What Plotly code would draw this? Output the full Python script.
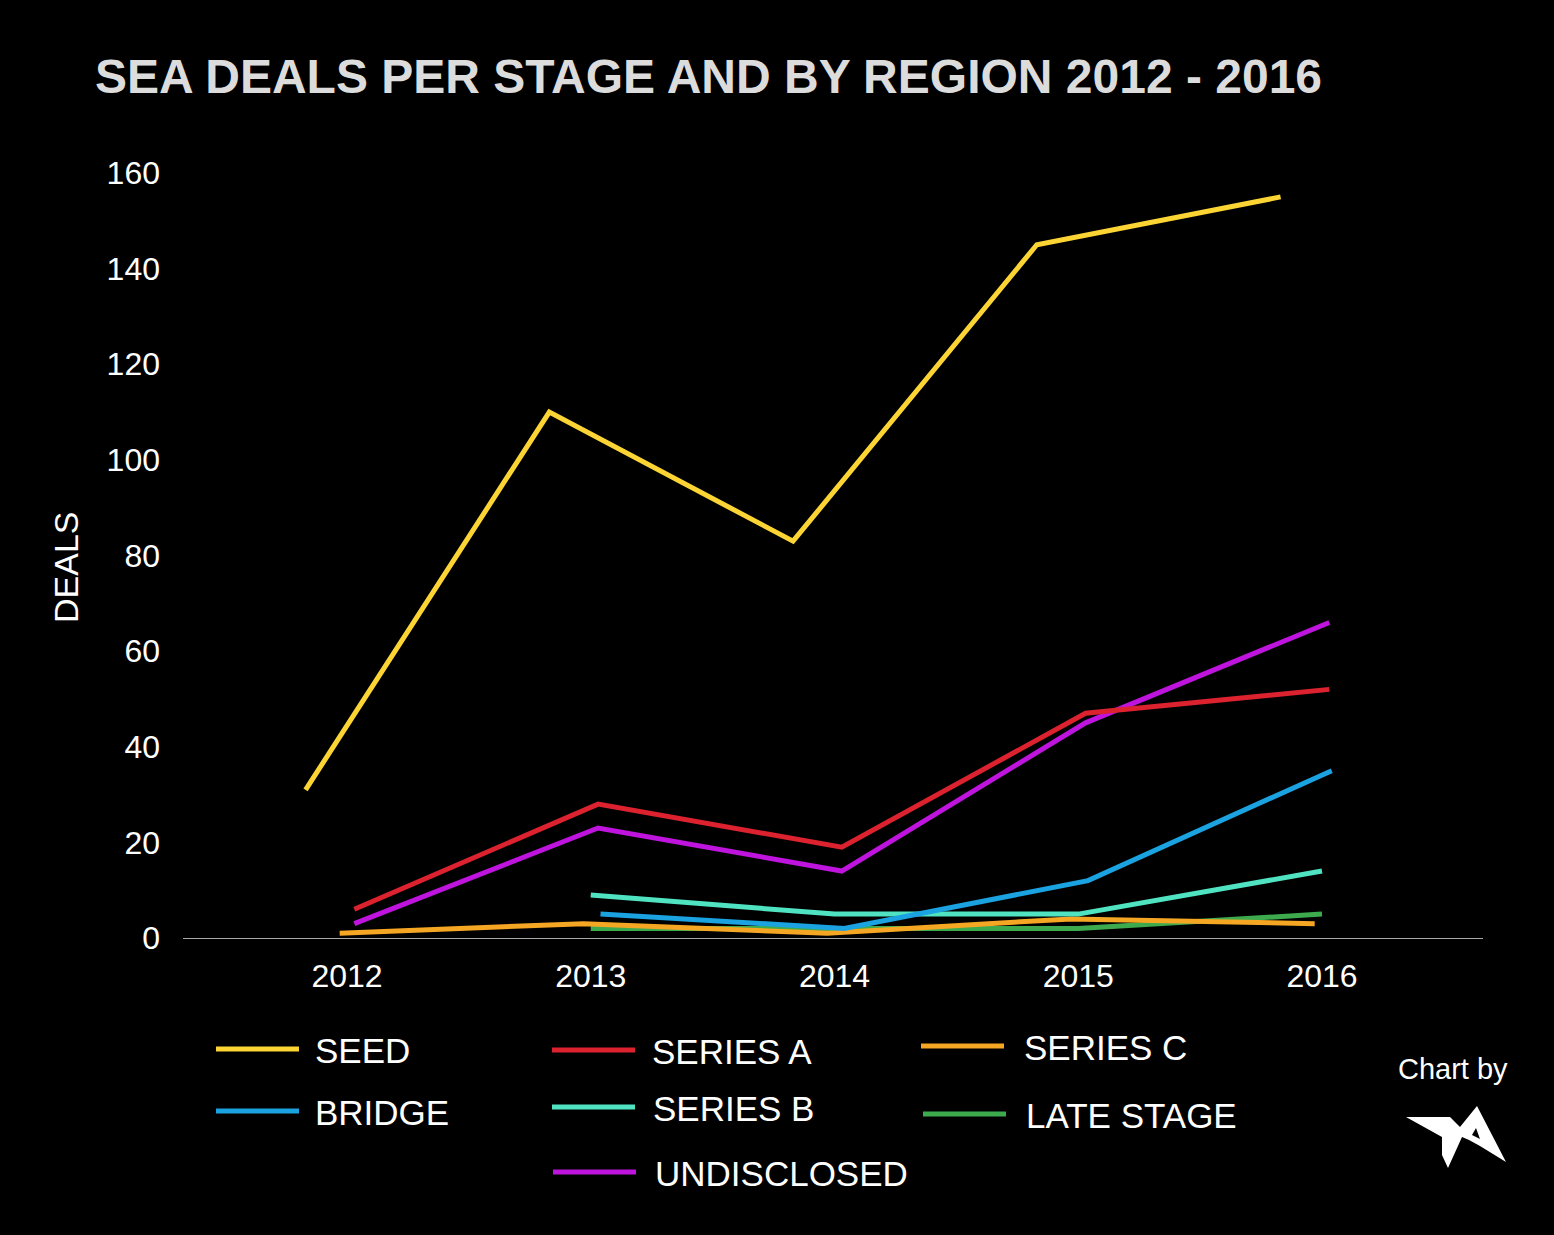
import plotly.graph_objects as go

# ---------------- data ----------------
years = [2012, 2013, 2014, 2015, 2016]
tick_labels = ["2012", "2013", "2014", "2015", "2016"]

seed = [31, 110, 83, 145, 155]
series_a = [6, 28, 19, 47, 52]
series_c = [1, 3, 1, 4, 3]
bridge = [None, 5, 2, 12, 35]
series_b = [None, 9, 5, 5, 14]
late_stage = [None, 2, 2, 2, 5]
undisclosed = [3, 23, 14, 45, 66]

names = ["SEED", "SERIES A", "SERIES C", "BRIDGE", "SERIES B", "LATE STAGE", "UNDISCLOSED"]
values = [seed, series_a, series_c, bridge, series_b, late_stage, undisclosed]
colors = ["#FCD535", "#DC222E", "#F5A623", "#1BA2E0", "#50E3C2", "#3DAA4E", "#BE14DE"]
# horizontal dodge of each series within a year (styling)
dodge = [-0.17, 0.03, -0.03, 0.04, 0.0, 0.0, 0.03]

# ---------------- layout geometry ----------------
W, H = 1554, 1235
L, R, T, B = 183, 1483, 173, 938
FONT = "Liberation Sans, Arial, Helvetica, sans-serif"


def px(x):
    return (x - L) / (R - L)


def py(y):
    return (B - y) / (B - T)


fig = go.Figure()

order = [5, 2, 4, 3, 6, 1, 0]
for i in order:
    fig.add_trace(go.Scatter(
        x=[yr + dodge[i] for yr in years],
        y=values[i],
        mode="lines",
        name=names[i],
        line=dict(color=colors[i], width=5),
        connectgaps=False,
        showlegend=False,
        hoverinfo="x+y+name",
    ))

shapes = []
annotations = []

# custom legend (3 columns)
legend_layout = [
    (0, 216, 1049, 313),
    (1, 552, 1050, 650),
    (2, 921, 1046, 1022),
    (3, 216, 1111, 313),
    (4, 552, 1107, 651),
    (5, 923, 1114, 1024),
    (6, 553, 1172, 653),
]
for idx, x0, y0, tx in legend_layout:
    shapes.append(dict(type="line", xref="paper", yref="paper",
                       x0=px(x0), x1=px(x0 + 83), y0=py(y0), y1=py(y0),
                       line=dict(color=colors[idx], width=5)))
    annotations.append(dict(xref="paper", yref="paper", x=px(tx), y=py(y0 + 1),
                            xanchor="left", yanchor="middle", showarrow=False,
                            text=names[idx], font=dict(family=FONT, size=35, color="#ffffff")))

# y axis title
annotations.append(dict(xref="paper", yref="paper", x=px(66), y=py(567),
                        xanchor="center", yanchor="middle", showarrow=False,
                        text="DEALS", textangle=-90,
                        font=dict(family=FONT, size=34, color="#ffffff")))

# credit
annotations.append(dict(xref="paper", yref="paper", x=px(1453), y=py(1069),
                        xanchor="center", yanchor="middle", showarrow=False,
                        text="Chart by", font=dict(family=FONT, size=29, color="#ffffff")))

# logo (approximate outline)
logo_pts = [(1406, 1117), (1450, 1117), (1460, 1127), (1477, 1106), (1506, 1162),
            (1480, 1146), (1469, 1140), (1462, 1137), (1448, 1168), (1442, 1155),
            (1442, 1137), (1433, 1132)]
path = "M " + " L ".join(f"{px(a):.5f},{py(b):.5f}" for a, b in logo_pts) + " Z"
shapes.append(dict(type="path", xref="paper", yref="paper", path=path,
                   fillcolor="#ffffff", line=dict(width=0)))
hole = [(1476, 1128), (1480, 1139), (1472, 1135)]
path2 = "M " + " L ".join(f"{px(a):.5f},{py(b):.5f}" for a, b in hole) + " Z"
shapes.append(dict(type="path", xref="paper", yref="paper", path=path2,
                   fillcolor="#000000", line=dict(width=0)))

x0_year = 2012 - (347 - L) / 243.75
x1_year = 2012 + (R - 347) / 243.75

fig.update_layout(
    width=W, height=H,
    paper_bgcolor="#000000", plot_bgcolor="#000000",
    margin=dict(l=L, r=W - R, t=T, b=H - B, pad=0),
    showlegend=False,
    title=dict(text="<b>SEA DEALS PER STAGE AND BY REGION 2012 - 2016</b>",
               x=95 / W, xref="container", xanchor="left",
               y=1 - 76 / H, yref="container", yanchor="middle",
               font=dict(family=FONT, size=48, color="#DCDCDC")),
    xaxis=dict(range=[x0_year, x1_year], tickvals=years, ticktext=tick_labels,
               showgrid=False, zeroline=False, showline=True, linecolor="#A8A8A8",
               linewidth=1, ticks="", ticklabelstandoff=10,
               tickfont=dict(family=FONT, size=32, color="#ffffff")),
    yaxis=dict(range=[0, 160], tickvals=[0, 20, 40, 60, 80, 100, 120, 140, 160],
               showgrid=False, zeroline=False, showline=False, ticks="",
               ticklabelstandoff=22,
               tickfont=dict(family=FONT, size=32, color="#ffffff")),
    shapes=shapes,
    annotations=annotations,
)

fig.write_html(
    "out.html",
    config={"displayModeBar": False},
    post_script="document.body.style.margin='0';document.body.style.background='#000';",
)
